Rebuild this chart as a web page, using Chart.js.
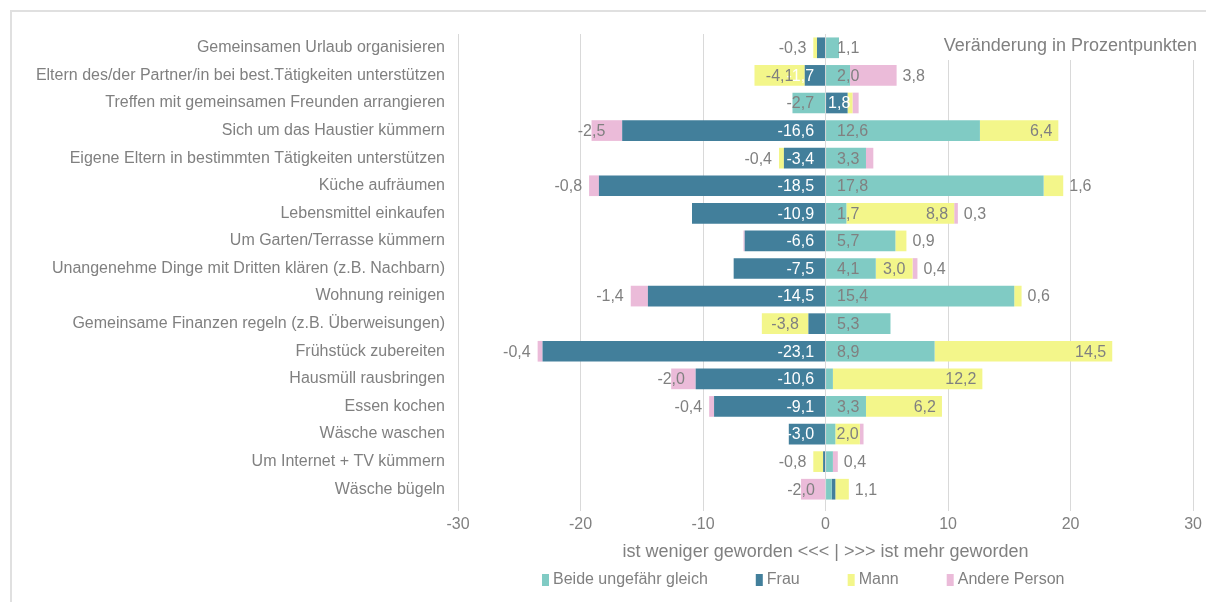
<!DOCTYPE html>
<html>
<head>
<meta charset="utf-8">
<script src="https://cdn.jsdelivr.net/npm/chart.js@4.4.1/dist/chart.umd.min.js"></script>
<style>
  html, body { margin: 0; background: #fff; }
  #wrap { width: 1206px; height: 602px; }
</style>
</head>
<body>
<div id="wrap"><canvas id="chart" width="1206" height="602"></canvas></div>
<script>
const categories = [
  'Gemeinsamen Urlaub organisieren',
  'Eltern des/der Partner/in bei best.Tätigkeiten unterstützen',
  'Treffen mit gemeinsamen Freunden arrangieren',
  'Sich um das Haustier kümmern',
  'Eigene Eltern in bestimmten Tätigkeiten unterstützen',
  'Küche aufräumen',
  'Lebensmittel einkaufen',
  'Um Garten/Terrasse kümmern',
  'Unangenehme Dinge mit Dritten klären (z.B. Nachbarn)',
  'Wohnung reinigen',
  'Gemeinsame Finanzen regeln (z.B. Überweisungen)',
  'Frühstück zubereiten',
  'Hausmüll rausbringen',
  'Essen kochen',
  'Wäsche waschen',
  'Um Internet + TV kümmern',
  'Wäsche bügeln'
];
const seriesNames = ['Beide ungefähr gleich', 'Frau', 'Mann', 'Andere Person'];
const seriesColors = ['#80cbc4', '#427f9b', '#f3f68a', '#ebbbd9'];

const beide  = [1.1, 2.0, -2.7, 12.6, 3.3, 17.8, 1.7, 5.7, 4.1, 15.4, 5.3, 8.9, 0.6, 3.3, 0.8, 0.6, 0.5];
const frau   = [-0.7, -1.7, 1.8, -16.6, -3.4, -18.5, -10.9, -6.6, -7.5, -14.5, -1.4, -23.1, -10.6, -9.1, -3.0, -0.2, 0.3];
const mann   = [-0.3, -4.1, 0.4, 6.4, -0.4, 1.6, 8.8, 0.9, 3.0, 0.6, -3.8, 14.5, 12.2, 6.2, 2.0, -0.8, 1.1];
const andere = [0, 3.8, 0.5, -2.5, 0.6, -0.8, 0.3, -0.1, 0.4, -1.4, 0, -0.4, -2.0, -0.4, 0.3, 0.4, -2.0];

const xTicks = [-30, -20, -10, 0, 10, 20, 30];
const axisTitle = 'ist weniger geworden <<< | >>> ist mehr geworden';
const cornerNote = 'Veränderung in Prozentpunkten';

// segments without a value label ("row-series")
const noLabel = ['0-1', '2-2', '2-3', '4-3', '7-3', '10-1', '12-0', '14-0', '14-3', '15-0', '15-1', '16-0', '16-1'];

const FONT = '"Liberation Sans", Arial, sans-serif';
const GREY = '#808080';

Chart.defaults.font.family = FONT;
Chart.defaults.color = GREY;

const fmt = v => v.toFixed(1).replace('.', ',');

// data labels, roughly like Excel placed them
const barLabels = {
  id: 'barLabels',
  afterDatasetsDraw(chart) {
    const ctx = chart.ctx;
    ctx.save();
    ctx.font = '16px ' + FONT;
    ctx.textBaseline = 'middle';
    chart.data.datasets.forEach((ds, i) => {
      chart.getDatasetMeta(i).data.forEach((bar, j) => {
        const v = ds.data[j];
        if (!v || noLabel.includes(j + '-' + i)) return;
        const txt = fmt(v);
        const w = ctx.measureText(txt).width;
        const s = v > 0 ? 1 : -1;
        const len = Math.abs(bar.x - bar.base);
        let x, align;
        let color = GREY;
        const outside = () => { x = bar.x + s * (v > 0 ? 6 : 7); align = v > 0 ? 'left' : 'right'; };
        if (i < 2) {
          // inside base
          const off = (i === 1 && v > 0) ? 2 : 11;
          x = bar.base + s * off;
          align = v > 0 ? 'left' : 'right';
          if (i === 1) color = '#ffffff';
        } else if (i === 2) {
          if (v > 0 && len >= 2 * w) { x = bar.x - 6; align = 'right'; }
          else if (len >= w) { x = (bar.x + bar.base) / 2; align = 'center'; }
          else outside();
        } else {
          if (v < 0 && len >= 20) { x = bar.x; align = 'center'; }
          else outside();
        }
        ctx.fillStyle = color;
        ctx.textAlign = align;
        ctx.fillText(txt, x, bar.y + 1);
      });
    });
    ctx.restore();
  }
};

// frame, corner note and legend
const decor = {
  id: 'decor',
  beforeDraw(chart) {
    const ctx = chart.ctx;
    ctx.save();
    ctx.strokeStyle = '#e0e0e0';
    ctx.lineWidth = 2;
    ctx.beginPath();
    ctx.moveTo(11, 602);
    ctx.lineTo(11, 11);
    ctx.lineTo(1206, 11);
    ctx.stroke();
    ctx.restore();
  },
  afterDraw(chart) {
    const ctx = chart.ctx;
    ctx.save();
    ctx.font = '18px ' + FONT;
    ctx.textBaseline = 'middle';
    ctx.textAlign = 'right';
    const w = ctx.measureText(cornerNote).width;
    ctx.fillStyle = '#ffffff';
    ctx.fillRect(1197 - w - 6, 34, w + 8, 26);
    ctx.fillStyle = GREY;
    ctx.fillText(cornerNote, 1197, 46);

    // legend
    ctx.font = '16px ' + FONT;
    ctx.textAlign = 'left';
    const box = 7, pad = 4, gap = 48;
    let x = 542;
    const y = 580;
    seriesNames.forEach((n, k) => {
      ctx.fillStyle = seriesColors[k];
      ctx.fillRect(x, y - 6, box, 12);
      ctx.fillStyle = GREY;
      ctx.fillText(n, x + box + pad, y);
      x += box + pad + ctx.measureText(n).width + gap;
    });
    ctx.restore();
  }
};

const series = [beide, frau, mann, andere];

new Chart(document.getElementById('chart'), {
  type: 'bar',
  data: {
    labels: categories,
    datasets: series.map((d, k) => ({
      label: seriesNames[k],
      data: d,
      backgroundColor: seriesColors[k],
      borderWidth: 0,
      stack: 's',
      barPercentage: 0.75,
      categoryPercentage: 1
    }))
  },
  options: {
    indexAxis: 'y',
    responsive: false,
    animation: false,
    devicePixelRatio: 1,
    layout: { padding: { left: 0, right: 12, top: 34, bottom: 37 } },
    plugins: {
      legend: { display: false },
      tooltip: { enabled: false }
    },
    scales: {
      x: {
        stacked: true,
        min: -30,
        max: 30,
        afterBuildTicks: s => { s.ticks = xTicks.map(v => ({ value: v })); },
        afterFit: s => { s.height = 62; },
        grid: { color: '#d9d9d9', lineWidth: 1, tickLength: 8, drawTicks: true },
        border: { display: false },
        ticks: { color: GREY, font: { size: 16 }, padding: 4 },
        title: {
          display: true,
          text: axisTitle,
          color: GREY,
          font: { size: 18 },
          padding: { top: 8, bottom: 2 }
        }
      },
      y: {
        stacked: true,
        afterFit: s => { s.width = 458; },
        grid: { display: false },
        border: { display: false },
        ticks: { color: GREY, font: { size: 16 }, padding: 5, autoSkip: false }
      }
    }
  },
  plugins: [barLabels, decor]
});
</script>
</body>
</html>
